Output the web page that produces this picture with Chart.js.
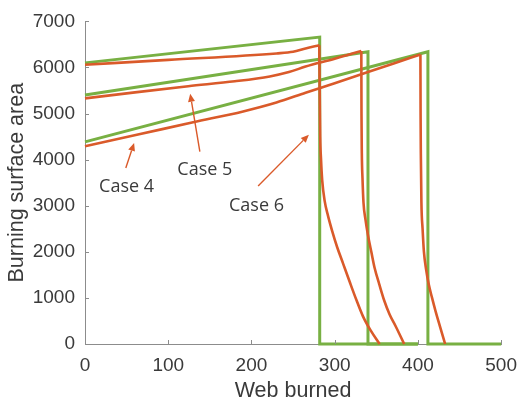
<!doctype html>
<html lang="en">
  <head>
    <meta charset="utf-8">
    <style>
      * { margin: 0; padding: 0; }
      body { background: #fff; }
      .chartBox { width: 527px; height: 404px; }
    </style>
  </head>
  <body>
    <div class="chartBox">
      <canvas id="myChart" width="527" height="404"></canvas>
    </div>
    <script src="https://cdn.jsdelivr.net/npm/chart.js/dist/chart.umd.min.js"></script>
    <script>
    // data
    const case6GreenX = [0, 282, 282, 400];
    const case6GreenY = [6100, 6659, 0, 0];
    const case5GreenX = [0, 340, 340, 400];
    const case5GreenY = [5401, 6340, 0, 0];
    const case4GreenX = [0, 412, 412, 500];
    const case4GreenY = [4386, 6340, 0, 0];

    // orange curves: rising part, then the fall after the peak
    const case6RiseX = [0, 100, 230, 250, 265, 281.5];
    const case6RiseY = [6060, 6165, 6305, 6340, 6411, 6482];
    const case6FallX = [281.5, 282, 282.6, 283.6, 285, 288, 292, 297, 303, 310, 318, 326, 334, 343, 354];
    const case6FallY = [6482, 5500, 4500, 4000, 3550, 3100, 2780, 2450, 2100, 1750, 1350, 960, 600, 300, 0];
    const case5RiseX = [0, 60, 124, 180, 222, 245, 265, 300, 332];
    const case5RiseY = [5330, 5460, 5593, 5700, 5806, 5900, 6019, 6190, 6360];
    const case5FallX = [332, 332.2, 332.6, 333.4, 334.6, 337, 340, 344, 348, 353.5, 359.6, 366, 373.7, 383.5];
    const case5FallY = [6360, 5000, 4136, 3600, 3070, 2700, 2360, 2000, 1648, 1300, 938, 640, 369, 0];
    const case4RiseX = [0, 65, 130, 190, 230, 265, 300, 340, 370, 403];
    const case4RiseY = [4292, 4550, 4812, 5047, 5240, 5452, 5660, 5900, 6080, 6283];
    const case4FallX = [403, 403.2, 403.5, 404.2, 405.6, 407.2, 410, 413, 417, 421, 427, 432.7];
    const case4FallY = [6283, 5000, 4136, 3070, 2500, 2004, 1600, 1294, 1000, 725, 350, 0];

    const caseLabels = ['Case 4', 'Case 5', 'Case 6'];
    const labelX = [50, 144, 206];
    const labelY = [3405, 3768, 3000];
    // arrows: tail -> head
    const arrowTailX = [49, 138, 208];
    const arrowTailY = [3817, 4173, 3426];
    const arrowHeadX = [59, 126.4, 269];
    const arrowHeadY = [4364, 5431, 4542];

    const green = '#78B043';
    const orange = '#DA5A2A';

    const toPoints = (xs, ys) => xs.map((x, i) => ({ x, y: ys[i] }));

    const series = (xs, ys, color, width, smooth) => ({
      data: toPoints(xs, ys),
      borderColor: color,
      borderWidth: width,
      pointRadius: 0,
      cubicInterpolationMode: smooth ? 'monotone' : 'default',
      tension: 0,
      fill: false,
      clip: false
    });

    const data = {
      datasets: [
        series(case6RiseX, case6RiseY, orange, 2.6, true),
        series(case6FallX, case6FallY, orange, 2.6, true),
        series(case5RiseX, case5RiseY, orange, 2.6, true),
        series(case5FallX, case5FallY, orange, 2.6, true),
        series(case4RiseX, case4RiseY, orange, 2.6, true),
        series(case4FallX, case4FallY, orange, 2.6, true),
        series(case6GreenX, case6GreenY, green, 3, false),
        series(case5GreenX, case5GreenY, green, 3, false),
        series(case4GreenX, case4GreenY, green, 3, false)
      ]
    };

    // inward tick marks
    const innerTicks = {
      id: 'innerTicks',
      afterDraw(chart) {
        const { ctx, chartArea: { left, bottom }, scales: { x, y } } = chart;
        ctx.save();
        ctx.strokeStyle = '#8c8c8c';
        ctx.lineWidth = 1;
        ctx.beginPath();
        x.ticks.forEach(t => {
          const px = Math.round(x.getPixelForValue(t.value)) + 0.5;
          ctx.moveTo(px, bottom);
          ctx.lineTo(px, bottom - 4);
        });
        y.ticks.forEach(t => {
          const py = Math.round(y.getPixelForValue(t.value)) + 0.5;
          ctx.moveTo(left, py);
          ctx.lineTo(left + 4, py);
        });
        ctx.stroke();
        ctx.restore();
      }
    };

    // case labels and arrows
    const annotations = {
      id: 'annotations',
      afterDatasetsDraw(chart) {
        const { ctx, scales: { x, y } } = chart;
        ctx.save();
        ctx.strokeStyle = orange;
        ctx.fillStyle = orange;
        ctx.lineWidth = 1.4;
        arrowTailX.forEach((tx, i) => {
          const x0 = x.getPixelForValue(tx), y0 = y.getPixelForValue(arrowTailY[i]);
          const x1 = x.getPixelForValue(arrowHeadX[i]), y1 = y.getPixelForValue(arrowHeadY[i]);
          const a = Math.atan2(y1 - y0, x1 - x0);
          const len = 8, half = 3.5;
          const bx = x1 - len * Math.cos(a), by = y1 - len * Math.sin(a);
          ctx.beginPath();
          ctx.moveTo(x0, y0);
          ctx.lineTo(bx, by);
          ctx.stroke();
          ctx.beginPath();
          ctx.moveTo(x1, y1);
          ctx.lineTo(bx + half * Math.sin(a), by - half * Math.cos(a));
          ctx.lineTo(bx - half * Math.sin(a), by + half * Math.cos(a));
          ctx.closePath();
          ctx.fill();
        });
        ctx.font = '18px "Open Sans", "Noto Sans", sans-serif';
        ctx.fillStyle = '#3a3a3a';
        ctx.textAlign = 'center';
        ctx.textBaseline = 'middle';
        caseLabels.forEach((t, i) => {
          ctx.fillText(t, x.getPixelForValue(labelX[i]), y.getPixelForValue(labelY[i]));
        });
        ctx.restore();
      }
    };

    const tickFont = { family: '"Liberation Sans", Arial, sans-serif', size: 19 };
    const titleFont = { family: '"Liberation Sans", Arial, sans-serif', size: 21.5 };

    const config = {
      type: 'line',
      data,
      options: {
        responsive: false,
        animation: false,
        layout: { padding: { left: 0, right: 18, top: 16, bottom: 0 } },
        scales: {
          x: {
            type: 'linear',
            min: 0,
            max: 500,
            ticks: { stepSize: 100, color: '#3a3a3a', font: tickFont, padding: 10, maxRotation: 0,
              callback: v => String(v) },
            grid: { display: false, drawTicks: false },
            border: { display: true, color: '#8c8c8c', width: 1 },
            title: { display: true, text: 'Web burned', color: '#3a3a3a', font: titleFont, padding: { top: 0, bottom: 0 } },
            afterFit(scale) { scale.height = 60; }
          },
          y: {
            type: 'linear',
            min: 0,
            max: 7000,
            ticks: { stepSize: 1000, color: '#3a3a3a', font: tickFont, padding: 10,
              callback: v => String(v) },
            grid: { display: false, drawTicks: false },
            border: { display: true, color: '#8c8c8c', width: 1 },
            title: { display: true, text: 'Burning surface area', color: '#3a3a3a', font: titleFont, padding: { top: 4, bottom: 0 } },
            afterFit(scale) { scale.width = 85; }
          }
        },
        plugins: {
          legend: { display: false },
          tooltip: { enabled: false }
        }
      },
      plugins: [innerTicks, annotations]
    };

    const myChart = new Chart(document.getElementById('myChart'), config);
    </script>
  </body>
</html>
